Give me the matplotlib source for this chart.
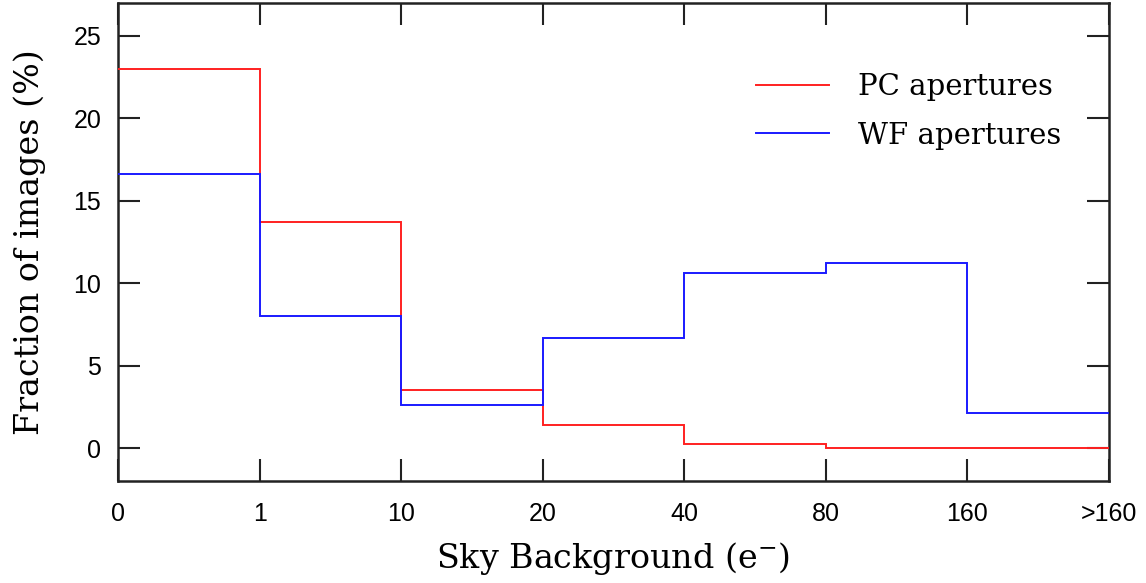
import numpy as np
import matplotlib
matplotlib.use('Agg')
import matplotlib.pyplot as plt
from matplotlib.lines import Line2D

plt.rcParams['mathtext.fontset'] = 'dejavuserif'

bin_labels = ['0', '1', '10', '20', '40', '80', '160', '>160']
pc_values = [23.0, 13.7, 3.5, 1.4, 0.25, 0.03, 0.0]
wf_values = [16.65, 8.0, 2.6, 6.65, 10.6, 11.2, 2.15]
edges = np.arange(len(bin_labels))

fig = plt.figure(figsize=(11.46, 5.83), dpi=100)
ax = fig.add_axes([118/1146, 1-481/583, (1109-118)/1146, (481-3)/583])
ax.set_axisbelow(True)

ax.stairs(pc_values, edges, baseline=None, color='#ff2020', lw=1.4, zorder=3)
ax.stairs(wf_values, edges, baseline=None, color='#1a1aff', lw=1.4, zorder=3)

ax.set_xlim(0, 7)
ax.set_ylim(-2, 27)
ax.set_xticks(edges)
ax.set_xticklabels(bin_labels, family='Liberation Sans', fontsize=18)
ax.set_yticks([0, 5, 10, 15, 20, 25])
ax.set_yticklabels(['0', '5', '10', '15', '20', '25'], family='Liberation Sans', fontsize=18)
ax.tick_params(direction='in', length=16, width=1.5, color='#222222',
               top=True, right=True, pad=15)
ax.tick_params(axis='y', pad=12)
for s in ax.spines.values():
    s.set_linewidth(1.8)
    s.set_color('#222222')

ax.set_xlabel(r'Sky Background (e$^{-}$)', family='DejaVu Serif', fontsize=24, labelpad=10)
ax.set_ylabel('Fraction of images (%)', family='DejaVu Serif', fontsize=24, labelpad=20)

handles = [Line2D([], [], color='#ff2020', lw=1.4),
           Line2D([], [], color='#1a1aff', lw=1.4)]
leg = ax.legend(handles, ['PC apertures', 'WF apertures'], loc='upper left',
                bbox_to_anchor=(0.617, 0.908), frameon=False, handlelength=2.5,
                handletextpad=1.0, labelspacing=0.7,
                prop={'family': 'DejaVu Serif', 'size': 21})

fig.savefig('out.png', dpi=100)
